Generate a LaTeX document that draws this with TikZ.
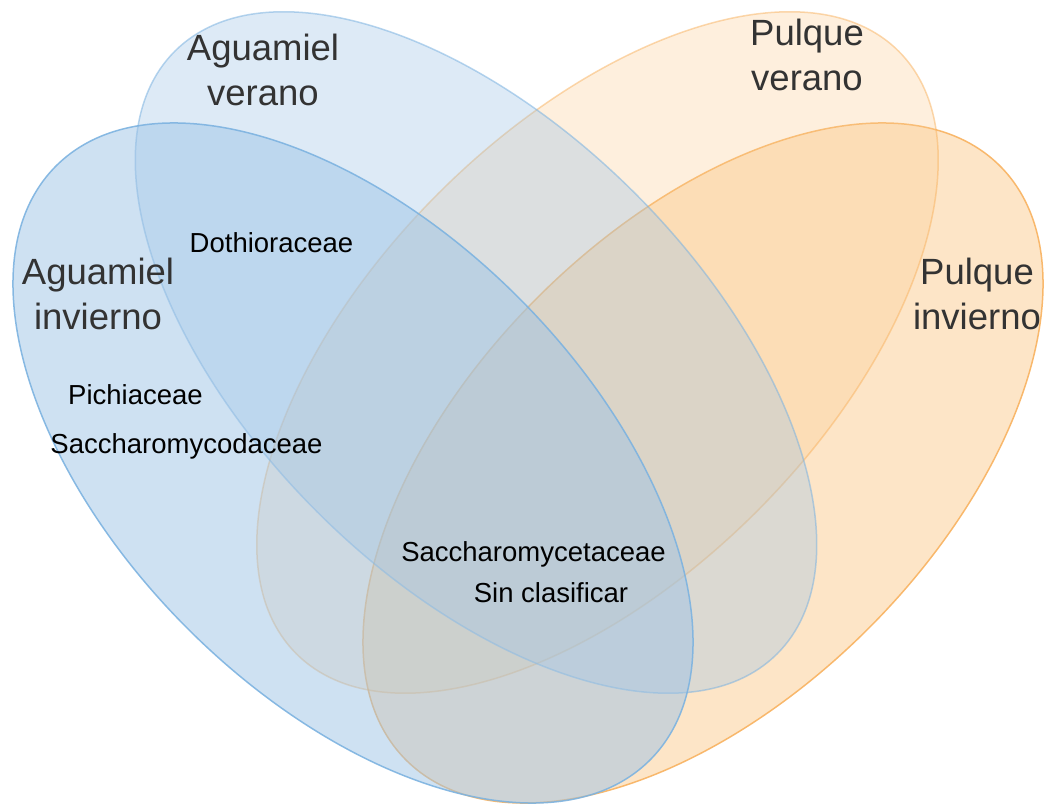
\documentclass[tikz,border=0pt]{standalone}
\usepackage{fontspec}
\setmainfont{Liberation Sans}
\usepackage{xcolor}
\definecolor{SkyBlue}{HTML}{9DC3E6}
\definecolor{SkyLine}{HTML}{7DB3E0}
\definecolor{Amber}{HTML}{FBCB8F}
\definecolor{AmberLine}{HTML}{F8B260}
\definecolor{LabelGray}{HTML}{333333}
\begin{document}
\begin{tikzpicture}[x=1pt,y=1pt,
    setlabel/.style={font=\fontsize{36.5}{45}\selectfont,text=LabelGray,align=center,anchor=base,inner sep=0pt},
    famlabel/.style={font=\fontsize{27.5}{33}\selectfont,text=black,anchor=base,inner sep=0pt}]
  \useasboundingbox (0,0) rectangle (1044,804);
  % sets, orange ones first so the blue ones lie on top
  \foreach \cx/\cy/\ang/\ra/\rb/\col/\lcol/\fop/\dop in {
      703/341/45/420/234/Amber/AmberLine/0.5/0.9,
      597.5/451.5/45/426/225/Amber/AmberLine/0.3/0.5,
      476/451.5/-45/426/225/SkyBlue/SkyLine/0.35/0.55,
      353/341/-45/420/234/SkyBlue/SkyLine/0.5/0.9}{
    \filldraw[fill=\col,draw=\lcol,fill opacity=\fop,draw opacity=\dop,line width=1.5pt,
      rotate around={\ang:(\cx,\cy)}]
      (\cx,\cy) ellipse [x radius=\ra, y radius=\rb];
  }
  % set names (base = last line)
  \node[setlabel] (agVer) at (263,698) {Aguamiel\\verano};
  \node[setlabel] (agInv) at (98,474) {Aguamiel\\invierno};
  \node[setlabel] (puVer) at (807,713) {Pulque\\verano};
  \node[setlabel] (puInv) at (977,474) {Pulque\\invierno};
  % families
  \node[famlabel] (dothio) at (271.5,551) {Dothioraceae};
  \node[famlabel] (pichia) at (135.5,399) {Pichiaceae};
  \node[famlabel] (sacchd) at (186.5,350) {Saccharomycodaceae};
  \node[famlabel] (sacchc) at (533.5,243) {Saccharomycetaceae};
  \node[famlabel] (sincla) at (551,202) {Sin clasificar};
\end{tikzpicture}
\end{document}
